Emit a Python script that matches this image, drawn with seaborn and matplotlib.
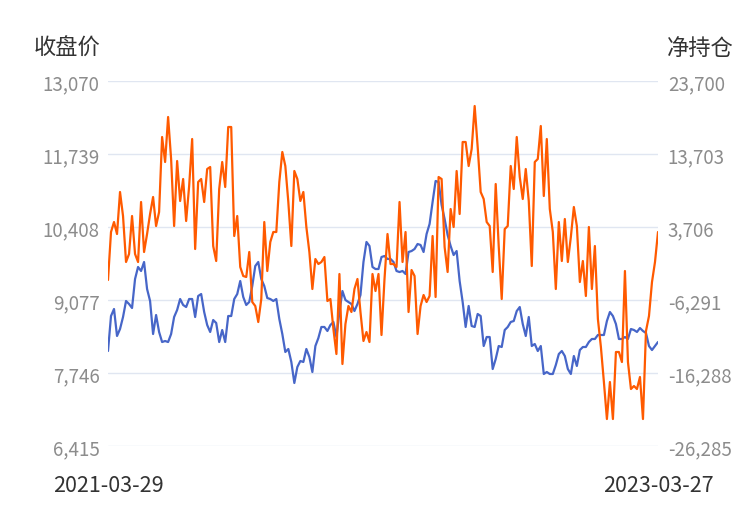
import numpy as np
import pandas as pd
import matplotlib
matplotlib.use("Agg")
import matplotlib.pyplot as plt
import seaborn as sns

sns.set_theme(style="white")
plt.rcParams['font.family'] = ['Noto Sans CJK SC', 'DejaVu Sans']

start_date = "2021-03-29"
end_date = "2023-03-27"
n_points = 184

close_price = [
    8147, 8785, 8913, 8421, 8548, 8767, 9059, 9004, 8931, 9460,
    9679, 9606, 9770, 9278, 9059, 8457, 8803, 8494, 8311, 8329,
    8311, 8457, 8767, 8895, 9095, 8986, 8949, 9095, 9095, 8767,
    9150, 9186, 8858, 8621, 8494, 8712, 8658, 8311, 8530, 8311,
    8785, 8785, 9095, 9186, 9423, 9132, 8986, 9041, 9332, 9697,
    9770, 9460, 9332, 9113, 9095, 9059, 9095, 8731, 8457, 8129,
    8184, 7947, 7564, 7855, 7965, 7947, 8184, 8038, 7764, 8238,
    8384, 8585, 8585, 8512, 8621, 8676, 8402, 8858, 9241, 9077,
    9041, 9004, 8876, 9004, 9168, 9770, 10135, 10062, 9679, 9642,
    9642, 9861, 9879, 9825, 9825, 9770, 9606, 9587, 9606, 9551,
    9952, 9970, 10007, 10098, 10080, 9952, 10280, 10463, 10864, 11247,
    11228, 10809, 10554, 10262, 10062, 9897, 9970, 9423, 9041, 8585,
    8968, 8603, 8585, 8822, 8785, 8238, 8402, 8402, 7819, 8001,
    8238, 8220, 8530, 8585, 8676, 8694, 8876, 8949, 8639, 8421,
    8767, 8238, 8275, 8147, 8238, 7728, 7764, 7728, 7728, 7892,
    8092, 8147, 8056, 7819, 7728, 8056, 7874, 8165, 8220, 8220,
    8311, 8366, 8366, 8439, 8439, 8439, 8694, 8858, 8785, 8639,
    8366, 8366, 8402, 8366, 8548, 8530, 8494, 8566, 8512, 8475,
    8238, 8165, 8238, 8311,
]

net_position = [
    -3553, 3021, 4390, 2747, 8499, 5212, -1088, 8, 5212, 8,
    -1088, 7129, 282, 2747, 5486, 7814, 3842, 5760, 16031, 12607,
    18770, 13018, 3842, 12744, 7266, 10279, 4527, 9320, 15757, 692,
    9868, 10279, 7129, 11648, 11922, 1103, -951, 8909, 12607, 9183,
    17400, 17400, 2473, 5212, -1773, -3005, -3142, 282, -6566, -7114,
    -9305, -6155, 4390, -2321, 1651, 3021, 3021, 9868, 13977, 12059,
    7129, 1103, 11374, 10279, 7266, 8499, 3705, 282, -4786, -677,
    -1362, -1088, -403, -6429, -6155, -10264, -13687, -2731, -15057, -9579,
    -7114, -7935, -4786, -3416, -7935, -11907, -10674, -12044, -2731, -5060,
    -2731, -11085, -3416, 2747, -1362, -1362, -1773, 7129, -1088, 3021,
    -7935, -2184, -3005, -10948, -7114, -5607, -6566, -5744, 2473, -5881,
    10553, 10279, 966, -2457, 6170, 3705, 11374, 5486, 15346, 15346,
    12059, 14387, 20276, 14661, 8499, 7540, 4390, 3842, -2457, 9594,
    1103, -6155, 3431, 3842, 12059, 8909, 16031, 10553, 7540, 11648,
    7266, -1636, 12607, 13018, 17537, 7951, 15757, 6170, 3021, -4786,
    4390, -951, 4801, -1088, 2336, 6444, 3842, -3827, -951, -5744,
    3705, -4786, 1103, -8894, -12729, -17522, -22589, -17522, -22589, -13413,
    -13413, -14783, -2321, -14783, -18481, -18070, -18481, -16837, -22589, -10538,
    -8483, -3827, -1088, 3021,
]

left_ticks = [6415, 7746, 9077, 10408, 11739, 13070]
right_ticks = [-26285, -16288, -6291, 3706, 13703, 23700]
left_title = "收盘价"
right_title = "净持仓"

dates = pd.date_range(start_date, end_date, periods=n_points)
df = pd.DataFrame({"date": dates, "close": close_price, "net": net_position})

fig = plt.figure(figsize=(7.5, 5.1), dpi=100)
ax = fig.add_axes([108 / 750, 1 - 447 / 510, 550 / 750, 365 / 510])
ax2 = ax.twinx()

grid_color = "#e0e6f1"
for t in left_ticks:
    ax.axhline(t, color=grid_color, lw=1.0, zorder=0)

sns.lineplot(data=df, x="date", y="close", ax=ax, color="#4766c8", lw=1.6, zorder=2)
sns.lineplot(data=df, x="date", y="net", ax=ax2, color="#ff5a00", lw=1.6, zorder=3)

ax.set_ylim(left_ticks[0], left_ticks[-1])
ax2.set_ylim(right_ticks[0], right_ticks[-1])
ax.set_xlim(dates[0], dates[-1])

ax.set_yticks(left_ticks)
ax.set_yticklabels([f"{v:,}" for v in left_ticks])
ax2.set_yticks(right_ticks)
ax2.set_yticklabels([f"{v:,}" for v in right_ticks])

ax.set_xticks([dates[0], dates[-1]])
ax.set_xticklabels([start_date, end_date])

for a in (ax, ax2):
    for s in a.spines.values():
        s.set_visible(False)
    a.set_xlabel("")
    a.set_ylabel("")
    a.grid(False)

ax.tick_params(axis="y", length=0, pad=6, labelsize=13.5, labelcolor="#8c8c8c")
ax2.tick_params(axis="y", length=0, pad=7, labelsize=13.5, labelcolor="#8c8c8c")
ax.tick_params(axis="x", length=0, pad=20, labelsize=15.5, labelcolor="#333333")
for lbl in ax.get_yticklabels() + ax2.get_yticklabels():
    lbl.set_fontweight("light")

fig.text(100 / 750, 1 - 48 / 510, left_title, ha="right", va="center",
         fontsize=16, color="#333333")
fig.text(667 / 750, 1 - 48 / 510, right_title, ha="left", va="center",
         fontsize=16, color="#333333")

fig.savefig("out.png", dpi=100)
